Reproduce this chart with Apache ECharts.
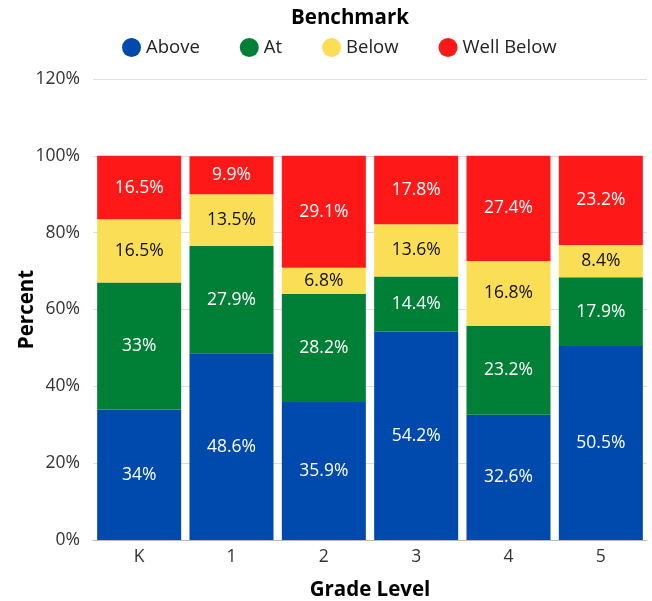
<!DOCTYPE html>
<html><head><meta charset="utf-8">
<script src="https://cdn.jsdelivr.net/npm/echarts@6/dist/echarts.min.js"></script>
<style>html,body{margin:0;padding:0;background:#fff}#c{width:652px;height:601px}</style>
</head><body><div id="c"></div>
<script>
const categories = ['K','1','2','3','4','5'];
const above = [34, 48.6, 35.9, 54.2, 32.6, 50.5];
const at = [33, 27.9, 28.2, 14.4, 23.2, 17.9];
const below = [16.5, 13.5, 6.8, 13.6, 16.8, 8.4];
const wellBelow = [16.5, 9.9, 29.1, 17.8, 27.4, 23.2];
const yTicks = [0, 20, 40, 60, 80, 100, 120];

const font = 'Open Sans';
function mk(name, data, color, labelColor) {
  return {
    name, type: 'bar', stack: 'total', data,
    barCategoryGap: '9%',
    itemStyle: { color, borderWidth: 0 },
    label: { show: true, position: 'inside', color: labelColor, fontSize: 17.5, fontFamily: font,
      formatter: p => p.value + '%' }
  };
}
const chart = echarts.init(document.getElementById('c'));
chart.setOption({
  animation: false,
  title: { text: 'Benchmark', left: 286, top: 3, textStyle: { fontSize: 20.5, fontWeight: 'bold', color: '#000', fontFamily: font } },
  legend: { top: 33, left: 117, icon: 'circle', itemWidth: 19, itemHeight: 19, itemGap: 40,
    textStyle: { fontSize: 18.5, color: '#222', fontFamily: font } },
  grid: { left: 93, right: 5, top: 79, bottom: 61, outerBoundsMode: 'none', containLabel: false },
  xAxis: { type: 'category', data: categories,
    name: 'Grade Level', nameLocation: 'middle', nameGap: 40, nameMoveOverlap: false,
    nameTextStyle: { fontSize: 20.5, fontWeight: 'bold', color: '#000', fontFamily: font },
    axisLine: { lineStyle: { color: '#bbb' } }, axisTick: { show: false },
    axisLabel: { fontSize: 17.5, color: '#333', margin: 8, fontFamily: font } },
  yAxis: { type: 'value', min: yTicks[0], max: yTicks[yTicks.length-1], interval: 20,
    name: 'Percent', nameLocation: 'middle', nameGap: 55, nameMoveOverlap: false,
    nameTextStyle: { fontSize: 20.5, fontWeight: 'bold', color: '#000', fontFamily: font },
    axisLabel: { fontSize: 17.5, color: '#333', formatter: '{value}%', margin: 13, fontFamily: font } ,
    splitLine: { lineStyle: { color: '#ddd' } } },
  series: [
    mk('Above', above, '#004AAD', '#fff'),
    mk('At', at, '#008037', '#fff'),
    mk('Below', below, '#FADE55', '#111'),
    mk('Well Below', wellBelow, '#FF1818', '#fff')
  ]
});
</script></body></html>
